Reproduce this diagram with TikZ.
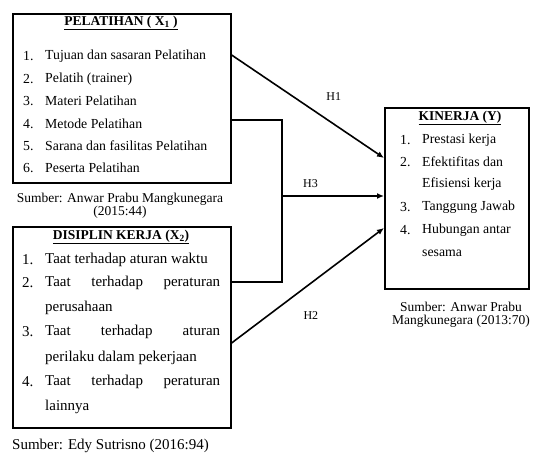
\documentclass[tikz,border=0pt]{standalone}
\usepackage{fontspec}
\setmainfont{Liberation Serif}
\usetikzlibrary{arrows.meta,calc,positioning}

\tikzset{
  box/.style={draw, line width=1.6pt, anchor=north west, inner sep=0pt},
  conn/.style={line width=1.6pt},
  arr/.style={conn, -{Latex[length=7pt,width=6pt]}},
  item/.style={anchor=west, inner sep=0pt, font=\fontsize{13.8}{15}\selectfont},
  itemb/.style={anchor=west, inner sep=0pt, font=\fontsize{15}{16}\selectfont},
  itemc/.style={anchor=west, inner sep=0pt, font=\fontsize{13.8}{15}\selectfont},
  ttl/.style={inner sep=0pt, font=\fontsize{13.5}{15}\selectfont\bfseries},
  src/.style={inner sep=0pt, align=center, font=\fontsize{13.5}{12.5}\selectfont},
  hyp/.style={inner sep=0pt, font=\fontsize{12}{12}\selectfont}
}

\begin{document}
\begin{tikzpicture}[x=1pt,y=-1pt]
        \useasboundingbox (0,0) rectangle (533,454);
        %Boxes
        \node[box, minimum width=218pt, minimum height=169pt] (pelatihan) at (12,13) {};
        \node[box, minimum width=218pt, minimum height=201pt] (disiplin) at (12,226) {};
        \node[box, minimum width=144pt, minimum height=181pt] (kinerja) at (384,107) {};
        %Pelatihan
        \node[ttl] (ttlX1) at (121,23) {\underline{PELATIHAN ( X\textsubscript{1} )}};
        \node[item] (n11) at (23,56) {1.};
        \node[item] (i11) at (45,56) {Tujuan dan sasaran Pelatihan};
        \node[item] (n12) at (23,79) {2.};
        \node[item] (i12) at (45,79) {Pelatih (trainer)};
        \node[item] (n13) at (23,101) {3.};
        \node[item] (i13) at (45,101) {Materi Pelatihan};
        \node[item] (n14) at (23,124) {4.};
        \node[item] (i14) at (45,124) {Metode Pelatihan};
        \node[item] (n15) at (23,146) {5.};
        \node[item] (i15) at (45,146) {Sarana dan fasilitas Pelatihan};
        \node[item] (n16) at (23,168) {6.};
        \node[item] (i16) at (45,168) {Peserta Pelatihan};
        \node[src] (src1) at (120,206) {Sumber: Anwar Prabu Mangkunegara\\(2015:44)};
        %Disiplin
        \node[ttl] (ttlX2) at (121,237) {\underline{DISIPLIN KERJA (X\textsubscript{2})}};
        \node[itemb] (n21) at (22,260) {1.};
        \node[itemb] (i21) at (45,260) {Taat terhadap aturan waktu};
        \node[itemb] (n22) at (22,283) {2.};
        \node[itemb] (i22) at (45,283) {\makebox[175pt][s]{Taat terhadap peraturan}};
        \node[itemb] (i22b) at (45,308) {perusahaan};
        \node[itemb] (n23) at (22,332) {3.};
        \node[itemb] (i23) at (45,332) {\makebox[175pt][s]{Taat terhadap aturan}};
        \node[itemb] (i23b) at (45,358) {perilaku dalam pekerjaan};
        \node[itemb] (n24) at (22,382) {4.};
        \node[itemb] (i24) at (45,382) {\makebox[175pt][s]{Taat terhadap peraturan}};
        \node[itemb] (i24b) at (45,407) {lainnya};
        \node[src, anchor=west, font=\fontsize{15}{14}\selectfont] (src2) at (12,446) {Sumber: Edy Sutrisno (2016:94)};
        %Kinerja
        \node[ttl] (ttlY) at (460,118) {\underline{KINERJA (Y)}};
        \node[itemc] (n31) at (400,140) {1.};
        \node[itemc] (i31) at (422,140) {Prestasi kerja};
        \node[itemc] (n32) at (400,162) {2.};
        \node[itemc] (i32) at (422,162) {Efektifitas dan};
        \node[itemc] (i32b) at (422,184) {Efisiensi kerja};
        \node[itemc] (n33) at (400,207) {3.};
        \node[itemc] (i33) at (422,207) {Tanggung Jawab};
        \node[itemc] (n34) at (400,230) {4.};
        \node[itemc] (i34) at (422,230) {Hubungan antar};
        \node[itemc] (i34b) at (422,253) {sesama};
        \node[src] (src3) at (461,315) {Sumber: Anwar Prabu\\Mangkunegara (2013:70)};
        %Connectors
        \coordinate (jtop) at (282,120);
        \coordinate (jbot) at (282,282);
        \coordinate (join) at (282,196);
        \draw[arr] (pelatihan.east |- 0,55) -- (kinerja.west |- 0,158) node[hyp, pos=0.67, above=23pt] (h1) {H1};
        \draw[conn] (pelatihan.east |- jtop) -- (jtop) -- (jbot) -- (disiplin.east |- jbot);
        \draw[arr] (join) -- (kinerja.west |- join) node[hyp, pos=0.28, above=8pt] (h3) {H3};
        \draw[arr] (disiplin.east |- 0,343) -- (kinerja.west |- 0,228) node[hyp, pos=0.52, below=28pt] (h2) {H2};
      \end{tikzpicture}
\end{document}
